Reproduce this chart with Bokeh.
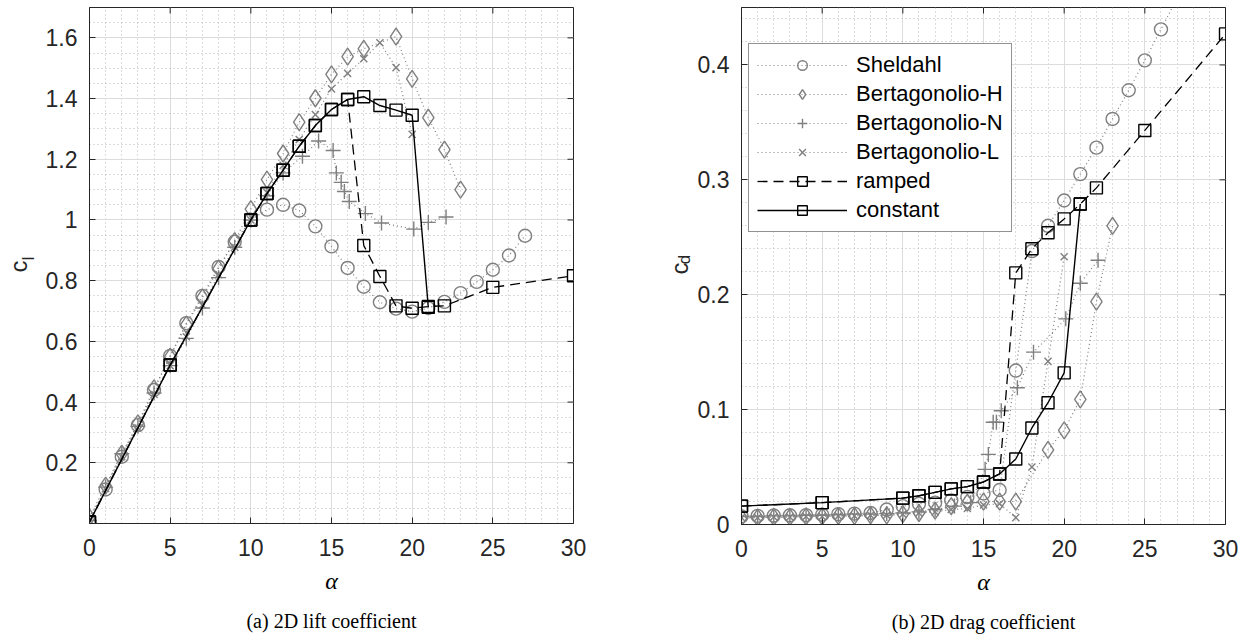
import math
from bokeh.plotting import figure
from bokeh.layouts import row
from bokeh.models import (FixedTicker, Range1d, Label, Legend, LegendItem, Title,
                          CustomJSTickFormatter)
from bokeh.embed import file_html
from bokeh.resources import INLINE

# ---------------- data ----------------
# Sheldahl
sh_alpha = list(range(0, 28))
sh_cl = [0.005, 0.112, 0.22, 0.324, 0.44, 0.552, 0.66, 0.75, 0.845, 0.928, 1.0, 1.034, 1.05, 1.031,
         0.979, 0.913, 0.842, 0.78, 0.729, 0.708, 0.698, 0.71, 0.73, 0.759, 0.796, 0.836, 0.883, 0.948]
sh_cd = [0.007, 0.0075, 0.0078, 0.008, 0.0082, 0.0085, 0.009, 0.0095, 0.010, 0.013, 0.016, 0.018,
         0.019, 0.021, 0.024, 0.027, 0.030, 0.134, 0.238, 0.26, 0.282, 0.305, 0.328, 0.353, 0.378,
         0.404, 0.431, 0.458]

# Bertagonolio-H
bh_alpha = [0, 1, 2, 3, 4, 5, 6, 7, 8, 9, 10, 11, 12, 13, 14, 15, 16, 17, 19, 20, 21, 22, 23]
bh_cl = [0.02, 0.125, 0.23, 0.33, 0.445, 0.55, 0.655, 0.745, 0.84, 0.93, 1.036, 1.133, 1.219, 1.322,
         1.401, 1.48, 1.538, 1.564, 1.604, 1.465, 1.337, 1.232, 1.10]
bh_cd = [0.006, 0.006, 0.0065, 0.0065, 0.007, 0.007, 0.0075, 0.0075, 0.008, 0.008, 0.009, 0.010,
         0.012, 0.016, 0.019, 0.020, 0.020, 0.020, 0.065, 0.082, 0.109, 0.194, 0.26]

# Bertagonolio-N
bn_alpha = [0, 1, 2, 3, 4, 5, 6, 7, 8, 9, 10, 11, 12, 13.2, 14.2, 15.1, 15.3, 15.6, 15.8, 16.1,
            17.1, 18.1, 20.1, 21.0, 22.1]
bn_cl = [0.01, 0.12, 0.23, 0.32, 0.43, 0.52, 0.61, 0.71, 0.81, 0.91, 1.0, 1.08, 1.155, 1.21, 1.26,
         1.229, 1.155, 1.124, 1.094, 1.061, 1.021, 0.99, 0.97, 0.992, 1.01]
bn_cd = [0.007, 0.007, 0.0075, 0.0075, 0.008, 0.008, 0.0085, 0.009, 0.009, 0.0095, 0.010, 0.011,
         0.013, 0.016, 0.019, 0.048, 0.061, 0.089, 0.089, 0.099, 0.119, 0.150, 0.179, 0.210, 0.230]

# Bertagonolio-L
bl_alpha = list(range(0, 21))
bl_cl = [0.01, 0.115, 0.22, 0.315, 0.425, 0.52, 0.615, 0.72, 0.82, 0.91, 1.0, 1.09, 1.18, 1.265,
         1.347, 1.432, 1.483, 1.531, 1.584, 1.502, 1.282]
bl_cd = [0.006, 0.006, 0.0065, 0.0065, 0.007, 0.007, 0.0075, 0.0075, 0.008, 0.008, 0.009, 0.010,
         0.011, 0.013, 0.014, 0.017, 0.018, 0.006, 0.050, 0.142, 0.233]

# ramped
rp_alpha = [0, 5, 10, 11, 12, 13, 14, 15, 16, 17, 18, 19, 20, 21, 22, 25, 30]
rp_cl = [0.005, 0.522, 1.0, 1.087, 1.164, 1.243, 1.311, 1.364, 1.397, 0.916, 0.814, 0.717, 0.709,
         0.715, 0.717, 0.778, 0.816]
rp_cd = [0.016, 0.019, 0.023, 0.025, 0.028, 0.031, 0.033, 0.037, 0.044, 0.219, 0.240, 0.254, 0.266,
         0.279, 0.293, 0.343, 0.427]

# constant
ct_alpha = [0, 5, 10, 11, 12, 13, 14, 15, 16, 17, 18, 19, 20, 21]
ct_cl = [0.005, 0.522, 1.0, 1.087, 1.164, 1.243, 1.311, 1.364, 1.397, 1.406, 1.377, 1.362, 1.345, 0.712]
ct_cd = [0.016, 0.019, 0.023, 0.025, 0.028, 0.031, 0.033, 0.037, 0.044, 0.057, 0.084, 0.106, 0.132, 0.279]

series_names = ["Sheldahl", "Bertagonolio-H", "Bertagonolio-N", "Bertagonolio-L", "ramped", "constant"]

# ticks
x_ticks = [0, 5, 10, 15, 20, 25, 30]
x_minor = list(range(0, 31))
cl_ticks = [0.2, 0.4, 0.6, 0.8, 1.0, 1.2, 1.4, 1.6]
cl_minor = [round(0.05 * i, 2) for i in range(0, 35)]
cd_ticks = [0, 0.1, 0.2, 0.3, 0.4]
cd_minor = [round(0.02 * i, 2) for i in range(0, 23)]

# ---------------- styling ----------------
AX = "#262626"
GRAY = "#7f7f7f"
FONT = "Liberation Sans"
SERIF = "Liberation Serif"
fmt = "return String(parseFloat(tick.toFixed(3)));"
FW = 484


def make_fig(frame_left, frame_right, fh, ymax, yt, ym):
    p = figure(width=frame_left + FW + frame_right, height=640, frame_width=FW, frame_height=fh,
               x_range=Range1d(0, 30), y_range=Range1d(0, ymax),
               output_backend="svg", toolbar_location=None,
               min_border_left=frame_left, min_border_right=frame_right,
               min_border_top=7, min_border_bottom=640 - 7 - fh)
    p.background_fill_color = "white"
    p.border_fill_color = "white"
    p.outline_line_color = AX
    p.outline_line_width = 1
    p.xaxis.ticker = FixedTicker(ticks=x_ticks, minor_ticks=x_minor)
    p.yaxis.ticker = FixedTicker(ticks=yt, minor_ticks=ym)
    for ax in (p.xaxis[0], p.yaxis[0]):
        ax.formatter = CustomJSTickFormatter(code=fmt)
        ax.axis_line_color = AX
        ax.major_tick_line_color = AX
        ax.major_tick_in = 6
        ax.major_tick_out = 0
        ax.minor_tick_line_color = None
        ax.major_label_text_font = FONT
        ax.major_label_text_font_size = "23px"
        ax.major_label_text_color = AX
    p.xaxis.major_label_standoff = 11
    p.yaxis.major_label_standoff = 8
    for g in (p.xgrid[0], p.ygrid[0]):
        g.grid_line_color = "#dcdcdc"
        g.grid_line_width = 1
        g.minor_grid_line_color = "#b8b8b8"
        g.minor_grid_line_dash = "1 3"
        g.minor_grid_line_width = 1
    # inward ticks on the top and right edges of the box
    dy = 6 * ymax / fh
    dx = 6 * 30 / FW
    p.segment(x0=x_ticks, y0=[ymax] * len(x_ticks), x1=x_ticks, y1=[ymax - dy] * len(x_ticks),
              line_color=AX, line_width=1)
    p.segment(x0=[30] * len(yt), y0=yt, x1=[30 - dx] * len(yt), y1=yt, line_color=AX, line_width=1)
    return p


def draw_series(p, use_cd):
    rs = []
    specs = [
        (sh_alpha, sh_cd if use_cd else sh_cl, "circle", 13, GRAY, "dotted"),
        (bh_alpha, bh_cd if use_cd else bh_cl, "diamond", 17, GRAY, "dotted"),
        (bn_alpha, bn_cd if use_cd else bn_cl, "cross", 15, GRAY, "dotted"),
        (bl_alpha, bl_cd if use_cd else bl_cl, "x", 10, GRAY, "dotted"),
        (rp_alpha, rp_cd if use_cd else rp_cl, "square", 12, "black", "dashed"),
        (ct_alpha, ct_cd if use_cd else ct_cl, "square", 12, "black", "solid"),
    ]
    for xs, ys, marker, size, color, style in specs:
        if style == "dotted":
            lr = p.line(xs, ys, line_color=color, line_width=1.2, line_dash="1 3")
        elif style == "dashed":
            lr = p.line(xs, ys, line_color=color, line_width=1.3, line_dash="10 6")
        else:
            lr = p.line(xs, ys, line_color=color, line_width=1.4)
        sr = p.scatter(xs, ys, marker=marker, size=size, line_color=color, fill_color=None,
                       line_width=1.4)
        rs.append((lr, sr))
    return rs


def side_label(p, side, x, y, text, size):
    p.add_layout(Label(x=x, y=y, x_units="screen", y_units="screen", text=text,
                       text_font=FONT, text_font_size=size, text_color=AX,
                       angle=math.pi / 2, text_align="center", text_baseline="middle"), side)


def below_title(p, text, font, size, style, standoff):
    p.add_layout(Title(text=text, align="center", vertical_align="top", text_font=font,
                       text_font_size=size, text_font_style=style, text_color="black",
                       standoff=standoff), "below")


# ---------------- left: lift ----------------
p1 = make_fig(89, 51, 516, 1.7, cl_ticks, cl_minor)
draw_series(p1, False)
below_title(p1, "α", SERIF, "24px", "italic", 18)
below_title(p1, "(a) 2D lift coefficient", SERIF, "20px", "normal", 10)
# y-axis label c_l (placed in the spare right margin strip, drawn at the far left)
side_label(p1, "right", -555, 257, "c", "24px")
side_label(p1, "right", -572, 265, "l", "17px")

# ---------------- right: drag ----------------
p2 = make_fig(117, 24, 517, 0.45, cd_ticks, cd_minor)
rs = draw_series(p2, True)
below_title(p2, "α", SERIF, "24px", "italic", 18)
below_title(p2, "(b) 2D drag coefficient", SERIF, "20px", "normal", 10)
side_label(p2, "left", 12, 256, "c", "24px")
side_label(p2, "left", 36, 265, "d", "17px")

items = [LegendItem(label=n, renderers=[lr, sr]) for n, (lr, sr) in zip(series_names, rs)]
legend = Legend(items=items, location=(7, 292), margin=0, padding=8, spacing=3,
                glyph_width=90, glyph_height=24, label_height=24, label_standoff=9,
                label_text_font=FONT, label_text_font_size="22px", label_text_color="black",
                border_line_color=AX, border_line_width=1, background_fill_color="white",
                background_fill_alpha=1.0)
p2.add_layout(legend)

layout = row(p1, p2)
open("out.html", "w").write(file_html(layout, INLINE))
